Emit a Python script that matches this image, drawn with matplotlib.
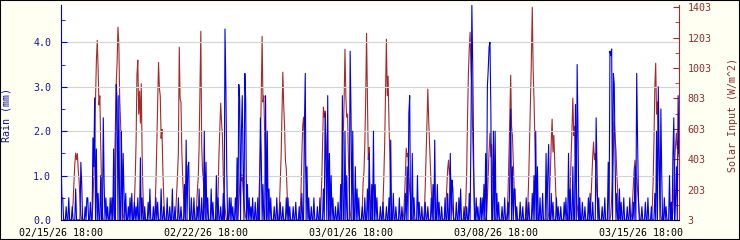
import numpy as np
import pandas as pd
import matplotlib
matplotlib.use("Agg")
import matplotlib.pyplot as plt
from matplotlib.patches import Rectangle

# ---------------- data ----------------
start_time = "2026-02-15 18:00"
n_hours = 716  # span of the x axis in hours

tick_labels = ["02/15/26 18:00", "02/22/26 18:00", "03/01/26 18:00",
               "03/08/26 18:00", "03/15/26 18:00"]

# hourly rain events (hours after start, mm)
rain_hour = [0, 1, 2, 6, 9, 13, 17, 23, 24, 28, 30, 31, 34, 37, 38, 39, 41, 43, 46, 49,
             50, 52, 54, 57, 59, 61, 64, 65, 67, 70, 72, 73, 75, 78, 80, 82, 85, 87, 89, 92,
             94, 97, 101, 103, 107, 110, 112, 116, 119, 123, 126, 129, 132, 136, 139, 143, 145, 147, 148, 151,
             154, 158, 160, 163, 166, 168, 170, 174, 176, 180, 182, 185, 188, 190, 191, 192, 195, 197, 199, 202,
             204, 206, 207, 209, 210, 211, 213, 214, 216, 218, 220, 222, 225, 228, 231, 232, 234, 237, 239, 241,
             243, 247, 250, 254, 257, 261, 263, 265, 269, 272, 276, 279, 282, 283, 285, 287, 290, 293, 297, 300,
             304, 306, 307, 309, 311, 313, 315, 318, 321, 324, 326, 329, 331, 335, 336, 338, 341, 343, 345, 349,
             352, 355, 357, 360, 362, 364, 366, 370, 373, 377, 380, 382, 385, 388, 392, 395, 399, 401, 403, 404,
             407, 409, 413, 415, 418, 422, 425, 429, 431, 433, 436, 438, 441, 445, 448, 451, 453, 454, 458, 461,
             463, 467, 470, 473, 475, 476, 477, 478, 481, 483, 486, 488, 490, 492, 494, 495, 496, 497, 498, 501,
             503, 505, 507, 511, 514, 518, 520, 521, 523, 525, 526, 528, 532, 535, 539, 542, 546, 548, 550, 552,
             555, 558, 562, 564, 565, 568, 570, 574, 576, 579, 583, 585, 588, 590, 593, 596, 598, 599, 601, 604,
             607, 611, 613, 616, 620, 621, 623, 627, 630, 634, 636, 637, 638, 640, 641, 642, 644, 647, 649, 652,
             656, 659, 663, 665, 667, 668, 669, 673, 677, 680, 684, 688, 690, 692, 693, 695, 696, 699, 701, 705,
             707, 709, 710, 712, 713, 715, 716]
rain_mm = [1.5, 0.5, 0.5, 0.3, 0.5, 0.3, 0.7, 1.3, 0.8, 0.3, 0.5, 0.5, 0.4, 1.85, 1.2, 2.75, 1.6, 0.6, 1.0, 2.3,
           0.8, 0.5, 0.3, 0.5, 0.5, 1.6, 3.05, 2.7, 2.8, 2.0, 1.5, 0.6, 0.6, 0.3, 0.5, 0.6, 0.4, 0.3, 0.5, 1.4,
           0.5, 0.3, 0.4, 0.7, 0.3, 0.5, 0.4, 0.7, 0.3, 0.5, 0.3, 0.7, 0.3, 0.5, 0.3, 0.8, 1.8, 1.2, 1.3, 0.5,
           0.5, 0.3, 0.7, 0.5, 2.0, 1.3, 0.5, 0.7, 0.4, 1.0, 0.5, 0.3, 0.6, 4.3, 3.0, 1.2, 0.5, 0.5, 0.3, 0.5,
           1.4, 3.05, 2.7, 2.0, 2.8, 1.2, 3.3, 2.7, 0.8, 0.5, 0.3, 0.5, 0.4, 0.5, 2.3, 1.5, 0.8, 2.8, 2.0, 0.7,
           0.5, 0.3, 0.5, 0.4, 0.3, 0.5, 0.5, 0.3, 0.3, 0.4, 0.3, 0.6, 2.1, 3.3, 1.2, 0.5, 0.3, 0.5, 0.3, 0.5,
           0.7, 2.4, 1.3, 2.8, 1.5, 1.0, 0.5, 0.3, 0.4, 0.8, 2.8, 2.0, 1.0, 3.8, 2.4, 2.0, 1.2, 0.7, 0.5, 0.3,
           0.5, 0.7, 1.5, 0.8, 2.0, 0.8, 0.5, 0.3, 0.4, 0.3, 0.5, 1.8, 0.6, 0.3, 0.5, 0.3, 0.6, 1.2, 2.4, 2.8,
           1.5, 0.5, 1.0, 0.4, 0.3, 0.4, 0.3, 0.5, 0.8, 1.8, 0.8, 0.4, 0.3, 0.5, 0.6, 1.5, 0.9, 0.7, 0.4, 0.5,
           0.7, 0.3, 0.3, 0.6, 2.0, 4.85, 3.5, 1.5, 0.5, 0.3, 0.5, 0.5, 0.8, 1.5, 3.0, 3.4, 3.9, 4.0, 2.5, 2.0,
           2.0, 0.6, 0.4, 0.3, 0.5, 0.4, 1.0, 2.5, 1.2, 0.7, 0.7, 0.3, 0.4, 0.3, 0.5, 0.4, 0.6, 1.0, 2.0, 1.2,
           0.5, 0.6, 1.5, 1.1, 1.7, 0.6, 0.4, 0.5, 0.3, 0.3, 0.4, 0.5, 1.5, 0.7, 1.2, 2.6, 3.5, 2.0, 0.5, 0.4,
           0.3, 0.5, 0.6, 0.4, 2.3, 1.2, 0.5, 0.3, 0.5, 1.3, 3.8, 3.7, 3.85, 3.3, 3.05, 1.3, 0.6, 0.7, 0.4, 0.5,
           0.3, 0.5, 0.4, 1.2, 3.3, 1.8, 0.5, 0.3, 0.4, 0.5, 0.3, 0.6, 2.0, 3.0, 1.5, 2.5, 1.0, 0.5, 0.3, 1.0,
           0.4, 1.5, 2.3, 0.5, 1.2, 2.8, 1.5]

# solar input (W/m^2), hourly from 05:00 to 19:00 for each day
solar_first_hour = 5
solar_days = [
    [0, 5, 40, 120, 250, 370, 443, 400, 440, 330, 260, 130, 40, 5, 0],
    [0, 20, 120, 300, 560, 800, 1050, 1186, 1000, 760, 820, 500, 230, 60, 0],
    [0, 25, 140, 330, 600, 900, 1040, 1272, 1160, 800, 650, 420, 200, 50, 0],
    [0, 20, 110, 280, 520, 960, 1055, 700, 850, 640, 900, 420, 180, 40, 0],
    [0, 15, 90, 260, 500, 780, 1040, 870, 820, 540, 600, 330, 160, 40, 0],
    [0, 10, 60, 180, 300, 450, 1140, 800, 780, 450, 280, 150, 60, 10, 0],
    [0, 10, 80, 200, 280, 480, 850, 1245, 500, 330, 260, 120, 40, 5, 0],
    [0, 5, 60, 180, 430, 600, 772, 650, 560, 300, 160, 90, 30, 0, 0],
    [0, 5, 40, 120, 220, 318, 260, 300, 200, 120, 60, 20, 0, 0, 0],
    [0, 15, 100, 260, 500, 820, 1212, 780, 820, 560, 300, 150, 50, 5, 0],
    [0, 10, 80, 260, 420, 700, 976, 760, 620, 400, 340, 180, 60, 5, 0],
    [0, 5, 50, 180, 420, 620, 680, 520, 380, 300, 180, 90, 20, 0, 0],
    [0, 10, 80, 250, 480, 746, 680, 720, 560, 400, 300, 150, 40, 0, 0],
    [0, 15, 90, 280, 560, 780, 1127, 820, 680, 700, 400, 200, 60, 5, 0],
    [0, 10, 70, 250, 320, 500, 800, 1232, 820, 400, 480, 200, 50, 0, 0],
    [0, 15, 100, 280, 500, 860, 1193, 820, 950, 640, 400, 180, 50, 0, 0],
    [0, 5, 40, 150, 300, 476, 420, 440, 300, 200, 150, 70, 20, 0, 0],
    [0, 10, 70, 220, 420, 640, 864, 660, 500, 320, 200, 100, 30, 0, 0],
    [0, 5, 30, 100, 220, 340, 397, 300, 350, 200, 120, 50, 10, 0, 0],
    [0, 20, 120, 320, 680, 960, 1130, 1239, 1000, 880, 560, 300, 100, 10, 0],
    [0, 5, 40, 150, 300, 460, 575, 420, 500, 300, 180, 80, 20, 0, 0],
    [0, 10, 60, 200, 420, 700, 956, 620, 560, 380, 220, 100, 30, 0, 0],
    [0, 20, 120, 300, 560, 820, 1068, 1403, 1000, 800, 520, 280, 100, 10, 0],
    [0, 5, 40, 160, 320, 520, 667, 450, 560, 380, 220, 90, 20, 0, 0],
    [0, 10, 60, 200, 420, 600, 805, 560, 620, 400, 250, 110, 30, 0, 0],
    [0, 5, 40, 130, 280, 420, 516, 400, 440, 280, 160, 60, 15, 0, 0],
    [0, 5, 40, 150, 320, 480, 650, 540, 460, 300, 180, 80, 20, 0, 0],
    [0, 5, 30, 110, 220, 330, 397, 320, 280, 200, 110, 50, 10, 0, 0],
    [0, 10, 80, 250, 520, 880, 1035, 700, 780, 540, 320, 150, 40, 0, 0],
    [0, 10, 60, 200, 380, 500, 575, 470, 520, 420],
]

# ---------------- build series ----------------
t0 = pd.Timestamp(start_time)
times = t0 + pd.to_timedelta(np.arange(n_hours + 1), unit="h")

rain = np.zeros(n_hours + 1)
rain[np.array(rain_hour)] = rain_mm

solar = np.zeros(n_hours + 1)
first_midnight = 6  # hours from start to the first midnight
for d, vals in enumerate(solar_days):
    for i, v in enumerate(vals):
        h = first_midnight + 24 * d + solar_first_hour + i
        if h <= n_hours:
            solar[h] = v

# ---------------- plot ----------------
BLUE = "#0000ee"
BLUE_TXT = "#1414a0"
RED = "#a52a2a"
RED_TXT = "#8b3030"
BG = "#fffff2"
FONT = "DejaVu Sans Mono"
FS = 7.2

fig = plt.figure(figsize=(7.4, 2.4), dpi=100, facecolor=BG)
ax = fig.add_axes([61 / 740, 20 / 240, 618 / 740, 215 / 240])
ax2 = ax.twinx()

ax2.plot(times, solar, color=RED, lw=0.8)
ax.plot(times, rain, color=BLUE, lw=0.8)

ax.set_zorder(ax2.get_zorder() + 1)
ax.patch.set_visible(False)
ax2.patch.set_visible(True)
ax2.patch.set_facecolor("white")

ax.set_xlim(times[0], times[-1])
ax.set_ylim(0, 4.84)
ax2.set_ylim(3, 1418)

ax.set_yticks([0, 1, 2, 3, 4])
ax.set_yticklabels(["0.0", "1.0", "2.0", "3.0", "4.0"])
ax.set_yticks(np.arange(0.5, 4.84, 1.0), minor=True)
ax2.set_yticks(np.arange(3, 1404, 200))
ax2.set_yticks(np.arange(103, 1404, 200), minor=True)

tick_pos = [t0 + pd.Timedelta(days=7 * k) for k in range(len(tick_labels))]
ax.set_xticks(tick_pos)
ax.set_xticklabels(tick_labels)

ax.grid(axis="y", which="major", color="#d4d4d4", lw=0.8)
for g in ax.get_ygridlines()[:1]:
    g.set_visible(False)

ax.tick_params(axis="y", which="both", direction="in", colors=BLUE, labelcolor=BLUE_TXT,
               labelsize=FS, pad=7, length=4)
ax.tick_params(axis="y", which="minor", length=3)
ax2.tick_params(axis="y", which="both", direction="in", colors=RED, labelcolor=RED_TXT,
                labelsize=FS, pad=6, length=4)
ax2.tick_params(axis="y", which="minor", length=3)
ax.tick_params(axis="x", length=0, labelsize=FS, pad=6, labelcolor="black")

for lab in ax.get_xticklabels() + ax.get_yticklabels() + ax2.get_yticklabels():
    lab.set_fontfamily(FONT)

for a in (ax, ax2):
    a.spines["top"].set_visible(False)
    a.spines["left"].set_visible(False)
    a.spines["right"].set_visible(False)
    a.spines["bottom"].set_visible(False)
ax.spines["left"].set_visible(True)
ax.spines["left"].set_color(BLUE)
ax.spines["bottom"].set_visible(True)
ax.spines["bottom"].set_color("black")
ax2.spines["right"].set_visible(True)
ax2.spines["right"].set_color(RED)

fig.text(7 / 740, 1 - 115 / 240, "Rain (mm)", rotation=90, ha="center", va="center",
         color=BLUE_TXT, fontsize=FS, family=FONT)
fig.text(733 / 740, 1 - 115 / 240, "Solar Input (W/m^2)", rotation=90, ha="center", va="center",
         color=RED_TXT, fontsize=FS, family=FONT)

fig.patches.append(Rectangle((0, 0), 1, 1, transform=fig.transFigure, fill=False,
                             edgecolor="black", lw=1.5, zorder=10))

fig.savefig("out.png", dpi=100, facecolor=BG)
